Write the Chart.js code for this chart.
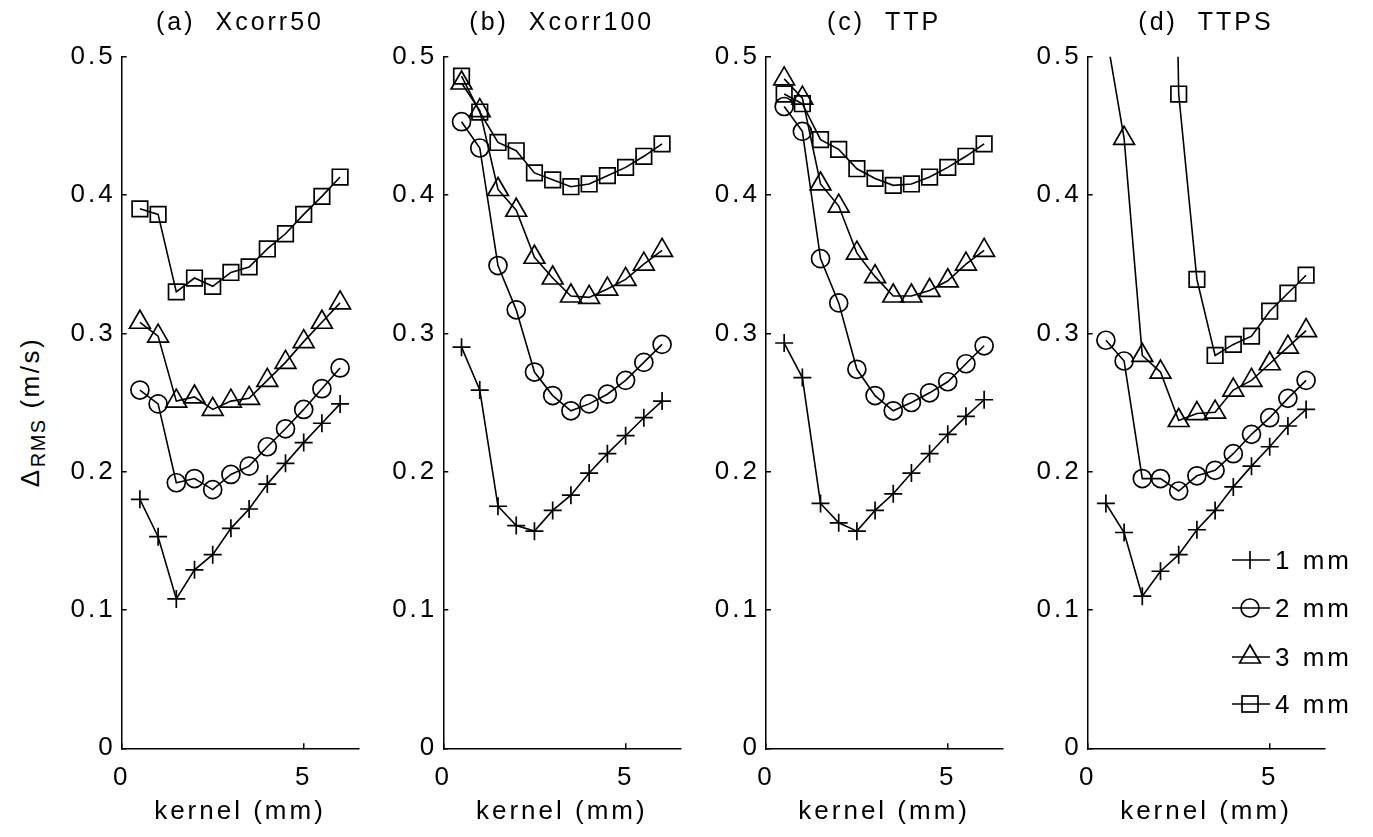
<!DOCTYPE html>
<html>
<head>
<meta charset="utf-8">
<title>RMS error vs kernel size</title>
<script src="https://cdn.jsdelivr.net/npm/chart.js@4.4.1/dist/chart.umd.min.js"></script>
<style>
  html, body { margin: 0; padding: 0; background: #fff; }
  body { width: 1373px; height: 837px; position: relative; overflow: hidden;
         font-family: 'Liberation Sans', Arial, sans-serif; color: #000; }
  canvas.panel { position: absolute; top: 0; }
  #ylabel { position: absolute; left: 30px; top: 412px; transform: translate(-50%, -50%) rotate(-90deg);
            font-size: 26px; line-height: 26px; white-space: nowrap; letter-spacing: 2.5px; }
  #ylabel sub { font-size: 20px; line-height: 0; vertical-align: -0.3em; letter-spacing: 1.5px; }
  .legend-row { position: absolute; left: 1231px; height: 30px; display: flex; align-items: center;
                font-size: 26px; line-height: 30px; letter-spacing: 3px; }
  .legend-row svg { display: block; margin-right: 4px; }
</style>
</head>
<body>
<canvas id="panelA" class="panel"></canvas>
<canvas id="panelB" class="panel"></canvas>
<canvas id="panelC" class="panel"></canvas>
<canvas id="panelD" class="panel"></canvas>
<div id="ylabel">Δ<sub>RMS</sub> (m/s)</div>
<div id="legend"></div>

<script>
// Datos
const kernelMm = [0.5, 1, 1.5, 2, 2.5, 3, 3.5, 4, 4.5, 5, 5.5, 6];
const xTicks = [0, 5];
const yTicks = [0, 0.1, 0.2, 0.3, 0.4, 0.5];
const seriesNames = ['1 mm', '2 mm', '3 mm', '4 mm'];
const panelTitles = ['(a)  Xcorr50', '(b)  Xcorr100', '(c)  TTP', '(d)  TTPS'];

// (a) Xcorr50
const xcorr50_1mm = [0.180, 0.153, 0.108, 0.129, 0.140, 0.159, 0.173, 0.191, 0.206, 0.221, 0.235, 0.249];
const xcorr50_2mm = [0.259, 0.249, 0.192, 0.195, 0.187, 0.198, 0.204, 0.218, 0.231, 0.245, 0.260, 0.275];
const xcorr50_3mm = [0.308, 0.298, 0.251, 0.254, 0.245, 0.251, 0.253, 0.266, 0.279, 0.294, 0.308, 0.322];
const xcorr50_4mm = [0.390, 0.386, 0.330, 0.340, 0.334, 0.344, 0.348, 0.361, 0.372, 0.386, 0.399, 0.413];

// (b) Xcorr100
const xcorr100_1mm = [0.290, 0.259, 0.175, 0.161, 0.157, 0.172, 0.183, 0.199, 0.213, 0.226, 0.239, 0.251];
const xcorr100_2mm = [0.453, 0.434, 0.349, 0.317, 0.272, 0.255, 0.244, 0.249, 0.256, 0.266, 0.279, 0.292];
const xcorr100_3mm = [0.481, 0.461, 0.404, 0.389, 0.355, 0.340, 0.327, 0.326, 0.332, 0.339, 0.350, 0.360];
const xcorr100_4mm = [0.486, 0.460, 0.438, 0.432, 0.416, 0.411, 0.406, 0.408, 0.414, 0.420, 0.428, 0.437];

// (c) TTP
const ttp_1mm = [0.293, 0.268, 0.177, 0.163, 0.157, 0.172, 0.184, 0.199, 0.213, 0.227, 0.240, 0.252];
const ttp_2mm = [0.464, 0.446, 0.354, 0.322, 0.274, 0.255, 0.244, 0.250, 0.257, 0.265, 0.278, 0.291];
const ttp_3mm = [0.484, 0.470, 0.408, 0.392, 0.358, 0.341, 0.327, 0.327, 0.331, 0.338, 0.350, 0.360];
const ttp_4mm = [0.473, 0.466, 0.440, 0.433, 0.419, 0.412, 0.407, 0.408, 0.413, 0.420, 0.428, 0.437];

// (d) TTPS (los valores altos quedan fuera del eje y se recortan)
const ttps_1mm = [0.177, 0.156, 0.110, 0.128, 0.140, 0.158, 0.172, 0.189, 0.204, 0.218, 0.233, 0.245];
const ttps_2mm = [0.295, 0.280, 0.195, 0.195, 0.186, 0.197, 0.201, 0.213, 0.227, 0.239, 0.253, 0.266];
const ttps_3mm = [0.518, 0.441, 0.284, 0.272, 0.237, 0.242, 0.243, 0.259, 0.266, 0.278, 0.290, 0.302];
const ttps_4mm = [1.60, 1.40, 1.20, 1.22, 0.473, 0.339, 0.284, 0.292, 0.298, 0.316, 0.329, 0.342];

const panelSeries = [
    [xcorr50_1mm, xcorr50_2mm, xcorr50_3mm, xcorr50_4mm],
    [xcorr100_1mm, xcorr100_2mm, xcorr100_3mm, xcorr100_4mm],
    [ttp_1mm, ttp_2mm, ttp_3mm, ttp_4mm],
    [ttps_1mm, ttps_2mm, ttps_3mm, ttps_4mm]
];

// Estilo y posicion
const canvasIds = ['panelA', 'panelB', 'panelC', 'panelD'];
const canvasLeft = [50, 372, 694, 1016];
const plotLeft = [121.7, 443.3, 766, 1087.7];
const plotWidth = 241.5;
const canvasWidth = 322;
const canvasHeight = 837;
const markerStyles = ['cross', 'circle', 'triangle', 'rect'];
const markerRadius = [9, 9, 12, 11];
const fontFamily = "'Liberation Sans', Arial, sans-serif";

Chart.defaults.font.family = fontFamily;
Chart.defaults.color = '#000';

// Espaciado de letras para parecerse al texto ancho de la figura
const letterSpacingPlugin = {
    id: 'letterSpacing',
    beforeLayout(chart) { chart.ctx.letterSpacing = '3px'; },
    beforeDraw(chart) { chart.ctx.letterSpacing = '3px'; }
};

document.addEventListener('DOMContentLoaded', function() {
    canvasIds.forEach(function(id, p) {
        const canvas = document.getElementById(id);
        canvas.width = canvasWidth;
        canvas.height = canvasHeight;
        canvas.style.left = canvasLeft[p] + 'px';

        const yAxisWidth = plotLeft[p] - canvasLeft[p];

        const datasets = panelSeries[p].map(function(values, s) {
            return {
                label: seriesNames[s],
                data: kernelMm.map((x, i) => ({ x: x, y: values[i] })),
                borderColor: '#000',
                borderWidth: 1.6,
                tension: 0,
                pointStyle: markerStyles[s],
                pointRadius: markerRadius[s],
                pointBorderColor: '#000',
                pointBackgroundColor: 'rgba(0,0,0,0)',
                pointBorderWidth: 1.7
            };
        });

        new Chart(canvas.getContext('2d'), {
            type: 'line',
            data: { datasets: datasets },
            plugins: [letterSpacingPlugin],
            options: {
                responsive: false,
                animation: false,
                events: [],
                layout: { padding: { left: 0, top: 0, bottom: 0, right: canvasWidth - yAxisWidth - plotWidth } },
                plugins: {
                    legend: { display: false },
                    tooltip: { enabled: false },
                    title: {
                        display: true,
                        text: panelTitles[p],
                        fullSize: false,
                        font: { size: 25, weight: 'normal' },
                        color: '#000',
                        padding: { top: 8, bottom: 18.7 }
                    }
                },
                scales: {
                    x: {
                        type: 'linear',
                        min: 0,
                        max: 6.5,
                        afterBuildTicks: scale => { scale.ticks = xTicks.map(v => ({ value: v })); },
                        afterFit: scale => { scale.height = 88.7; },
                        grid: { display: true, drawOnChartArea: false, drawTicks: true, tickLength: -5, color: '#000', lineWidth: 1.5 },
                        border: { display: true, color: '#000', width: 1.5 },
                        ticks: { font: { size: 26 }, padding: 19, maxRotation: 0 },
                        title: { display: true, text: 'kernel (mm)', font: { size: 26 }, padding: { top: 0, bottom: 9.4 } }
                    },
                    y: {
                        type: 'linear',
                        min: 0,
                        max: 0.5,
                        afterBuildTicks: scale => { scale.ticks = yTicks.map(v => ({ value: v })); },
                        afterFit: scale => { scale.width = yAxisWidth; },
                        grid: { display: true, drawOnChartArea: false, drawTicks: true, tickLength: -5, color: '#000', lineWidth: 1.5 },
                        border: { display: true, color: '#000', width: 1.5 },
                        ticks: {
                            font: { size: 26 },
                            padding: 11,
                            callback: v => (v === 0 ? '0' : v.toFixed(1))
                        }
                    }
                }
            }
        });
    });

    // Leyenda del panel (d)
    const legendTop = [560, 608, 657, 704];
    const legendIcons = [
        '<line x1="19" y1="6" x2="19" y2="24"/>',
        '<circle cx="19" cy="15" r="9"/>',
        '<polygon points="19,3 29.4,21 8.6,21"/>',
        '<rect x="11" y="7" width="16" height="16"/>'
    ];
    const legend = document.getElementById('legend');
    seriesNames.forEach(function(name, s) {
        const row = document.createElement('div');
        row.className = 'legend-row';
        row.style.top = (legendTop[s] - 15) + 'px';
        row.innerHTML = '<svg width="40" height="30" fill="none" stroke="#000" stroke-width="1.7">' +
            '<line x1="1" y1="15" x2="39" y2="15" stroke-width="1.6"/>' + legendIcons[s] + '</svg><span>' + name + '</span>';
        legend.appendChild(row);
    });
});
</script>
</body>
</html>
